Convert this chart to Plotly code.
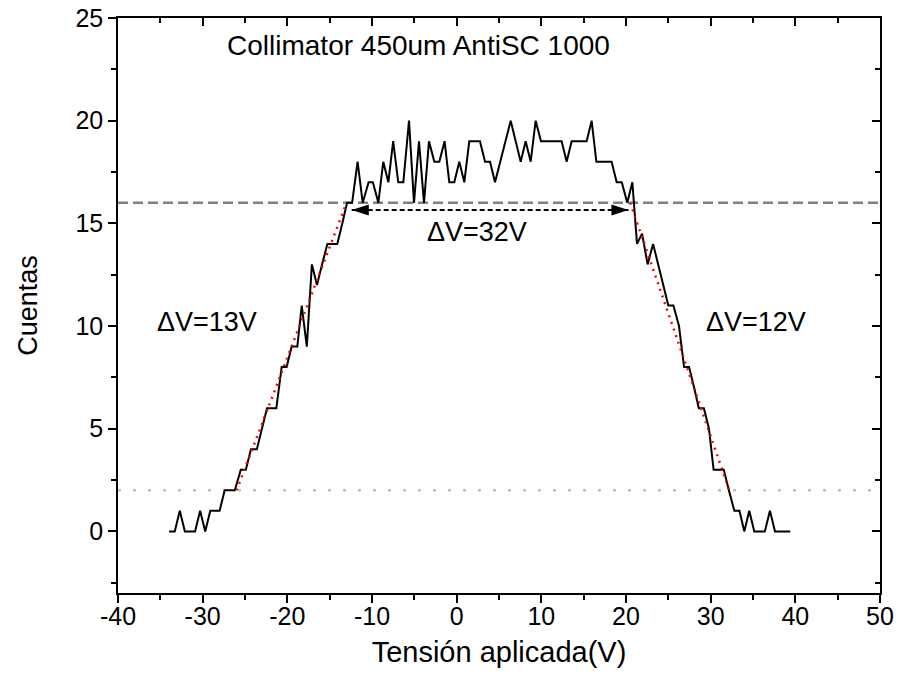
import plotly.graph_objects as go

# ---- data ----
voltage = [-33.97, -33.3, -32.7, -32.1, -31.5, -30.9, -30.3, -29.7, -29.1, -28.5,
           -28.0, -27.4, -26.8, -26.2, -25.5, -24.9, -24.3, -23.6, -23.0, -22.4,
           -21.85, -21.3, -20.67, -20.08, -19.49, -18.82, -18.3, -17.7, -17.1, -16.5,
           -15.9, -15.27, -14.7, -14.1, -13.5, -12.95, -12.35, -11.7, -11.1, -10.4,
           -9.9, -9.25, -8.67, -8.07, -7.5, -6.9, -6.3, -5.63, -5.04, -4.45,
           -3.86, -3.27, -2.64, -2.05, -1.43, -0.87, -0.28, 0.31, 0.9, 1.49,
           2.1, 2.75, 3.35, 3.94, 4.53, 5.15, 5.75, 6.38, 6.97, 7.56,
           8.15, 8.74, 9.33, 9.96, 10.57, 11.18, 11.79, 12.4, 12.99, 13.58,
           14.17, 14.76, 15.35, 15.94, 16.5, 17.1, 17.7, 18.3, 18.9, 19.5,
           20.15, 20.75, 21.3, 21.9, 22.55, 23.2, 23.8, 24.4, 25.0, 25.6,
           26.26, 26.86, 27.45, 28.05, 28.6, 29.2, 29.8, 30.35, 30.95, 31.55,
           32.15, 32.8, 33.4, 33.97, 34.56, 35.15, 35.75, 36.4, 37.0, 37.6,
           38.2, 38.8, 39.4]
counts = [0, 0, 1, 0, 0, 0, 1, 0, 1, 1,
          1, 2, 2, 2, 3, 3, 4, 4, 5, 6,
          6, 6, 8, 8, 9, 9, 11, 9, 13, 12,
          13, 14, 14, 14, 15, 16, 16, 18, 16, 17,
          17, 16, 18, 17, 19, 17, 17, 20, 16, 19,
          16, 19, 18, 18, 19, 17, 17, 18, 17, 19,
          19, 19, 18, 18, 17, 18, 19, 20, 19, 18,
          19, 18, 20, 19, 19, 19, 19, 19, 18, 19,
          19, 19, 19, 20, 18, 18, 18, 18, 17, 17,
          16, 17, 14, 14.5, 13, 14, 13, 12, 11, 11,
          10, 8, 8, 7, 6, 6, 5, 3, 3, 3,
          2, 1, 1, 0, 1, 0, 0, 0, 1, 0,
          0, 0, 0]

fit_left_x = [-26.0, -13.0]
fit_left_y = [2, 16]
fit_right_x = [20.5, 32.2]
fit_right_y = [16, 2]

level_high = 16
level_low = 2
arrow_x = [-12.4, 20.3]
arrow_y = 15.65

x_range = [-40, 50]
y_range = [-3, 25]
x_ticks = [-40, -30, -20, -10, 0, 10, 20, 30, 40, 50]
y_ticks = [0, 5, 10, 15, 20, 25]
y_minor = [-2.5, 2.5, 7.5, 12.5, 17.5, 22.5]

FONT = "Arial, Liberation Sans, sans-serif"

fig = go.Figure()

# horizontal reference levels
fig.add_trace(go.Scatter(x=x_range, y=[level_high, level_high], mode="lines",
                         line=dict(color="#808080", width=2.5, dash="10px,5px"),
                         hoverinfo="skip", showlegend=False))
fig.add_trace(go.Scatter(x=x_range, y=[level_low, level_low], mode="lines",
                         line=dict(color="#c0c0c0", width=2.5, dash="3px,12px"),
                         hoverinfo="skip", showlegend=False))

# data curve
fig.add_trace(go.Scatter(x=voltage, y=counts, mode="lines",
                         line=dict(color="black", width=2),
                         showlegend=False))

# linear fits
for fx, fy in [(fit_left_x, fit_left_y), (fit_right_x, fit_right_y)]:
    fig.add_trace(go.Scatter(x=fx, y=fy, mode="lines",
                             line=dict(color="red", width=2.5, dash="2px,5px"),
                             hoverinfo="skip", showlegend=False))

# double arrow
fig.add_trace(go.Scatter(x=arrow_x, y=[arrow_y, arrow_y], mode="lines",
                         line=dict(color="black", width=2, dash="5px,3px"),
                         hoverinfo="skip", showlegend=False))
fig.add_trace(go.Scatter(x=arrow_x, y=[arrow_y, arrow_y], mode="markers",
                         marker=dict(symbol="arrow", size=18, angle=[-90, 90],
                                     color="black", line=dict(width=0)),
                         hoverinfo="skip", showlegend=False))

# dummy trace for secondary axes
fig.add_trace(go.Scatter(x=[None], y=[None], xaxis="x2", yaxis="y2", showlegend=False))

ann_font = dict(family=FONT, size=27, color="black")
fig.add_annotation(x=-4.45, y=23.65, text="Collimator 450um AntiSC 1000", showarrow=False,
                   font=dict(family=FONT, size=28, color="black"))
fig.add_annotation(x=2.4, y=14.6, text="\u0394V=32V", showarrow=False, font=ann_font)
fig.add_annotation(x=-29.5, y=10.2, text="\u0394V=13V", showarrow=False, font=ann_font)
fig.add_annotation(x=35.4, y=10.2, text="\u0394V=12V", showarrow=False, font=ann_font)

axis_common = dict(showgrid=False, zeroline=False, showline=True, linecolor="black",
                   linewidth=1.5, tickcolor="black", tickwidth=1.5, automargin=False)

fig.update_layout(
    width=900, height=673,
    margin=dict(l=118, r=20, t=18, b=80),
    paper_bgcolor="white", plot_bgcolor="white",
    font=dict(family=FONT, size=25, color="black"),
    xaxis=dict(range=x_range, tickvals=x_ticks, ticktext=[str(v) for v in x_ticks],
               ticks="outside", ticklen=8, ticklabelstandoff=-8,
               minor=dict(dtick=5, ticks="outside", ticklen=5, tickcolor="black", tickwidth=1.5),
               title=dict(text="Tensión aplicada(V)", font=dict(size=29), standoff=13),
               tickfont=dict(size=25), **axis_common),
    yaxis=dict(range=y_range, tickvals=y_ticks, ticktext=[str(v) for v in y_ticks],
               ticks="outside", ticklen=8,
               minor=dict(tickvals=y_minor, ticks="outside",
                          ticklen=5, tickcolor="black", tickwidth=1.5),
               title=dict(text="Cuentas", font=dict(size=27), standoff=30),
               tickfont=dict(size=25), **axis_common),
    xaxis2=dict(range=x_range, overlaying="x", side="top", tickvals=x_ticks,
                ticks="inside", ticklen=8, showticklabels=False,
                minor=dict(dtick=5, ticks="inside", ticklen=5, tickcolor="black", tickwidth=1.5),
                **axis_common),
    yaxis2=dict(range=y_range, overlaying="y", side="right", tickvals=y_ticks,
                ticks="inside", ticklen=8, showticklabels=False,
                minor=dict(tickvals=y_minor, ticks="inside",
                           ticklen=5, tickcolor="black", tickwidth=1.5),
                **axis_common),
)

fig.write_html("out.html")
